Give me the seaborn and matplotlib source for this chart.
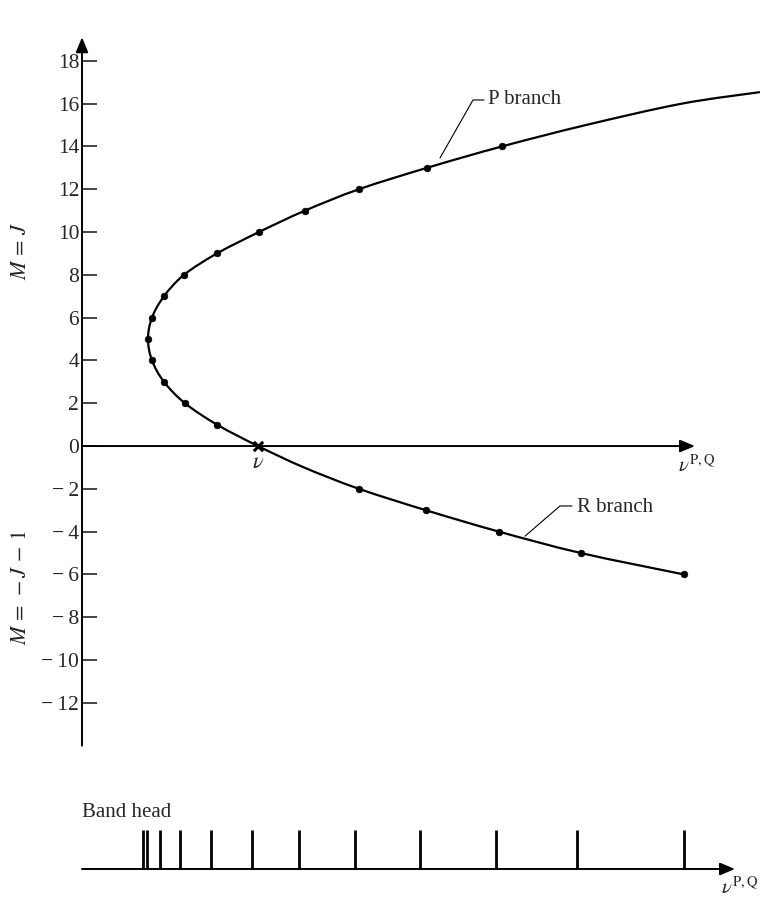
import pandas as pd
import seaborn as sns
import matplotlib.pyplot as plt
from matplotlib.path import Path
from matplotlib.patches import PathPatch

# Fortrat parabola, nu in arbitrary units measured from the M axis
curve_M = [-6, -5, -4, -3, -2, -1, 0, 1, 2, 3, 4, 5, 6, 7, 8, 9, 10, 11, 12, 13, 14, 15, 16, 16.55]
curve_nu = [60.2, 49.9, 41.7, 34.4, 27.7, 22.2, 17.6, 13.5, 10.3, 8.2, 7.0, 6.6, 7.0, 8.2,
            10.2, 13.5, 17.7, 22.3, 27.7, 34.5, 42.0, 50.4, 60.0, 68.0]

# marked lines (M = -1 has no line, M = 0 is the band origin)
dot_M = [-6, -5, -4, -3, -2, 1, 2, 3, 4, 5, 6, 7, 8, 9, 10, 11, 12, 13, 14]
dot_nu = [60.2, 49.9, 41.7, 34.4, 27.7, 13.5, 10.3, 8.2, 7.0, 6.6, 7.0, 8.2,
          10.2, 13.5, 17.7, 22.3, 27.7, 34.5, 42.0]
origin_nu = 17.6

# spectrum seen below
spec_lines = [6.1, 6.5, 7.8, 9.8, 12.9, 17.0, 21.7, 27.3, 33.8, 41.4, 49.5, 60.2]

yticks = list(range(-12, 19, 2))
ytick_labels = [str(t) if t >= 0 else '\u2212\u2009' + str(-t) for t in yticks]

dots = pd.DataFrame({'nu': dot_nu, 'M': dot_M})


def smooth_path(xs, ys):
    # Catmull-Rom through the read points, drawn as cubic Bezier segments
    pts = list(zip(xs, ys))
    ext = [pts[0]] + pts + [pts[-1]]
    verts = [pts[0]]
    codes = [Path.MOVETO]
    for i in range(1, len(ext) - 2):
        p0, p1, p2, p3 = ext[i - 1], ext[i], ext[i + 1], ext[i + 2]
        c1 = (p1[0] + (p2[0] - p0[0]) / 6, p1[1] + (p2[1] - p0[1]) / 6)
        c2 = (p2[0] - (p3[0] - p1[0]) / 6, p2[1] - (p3[1] - p1[1]) / 6)
        verts += [c1, c2, p2]
        codes += [Path.CURVE4] * 3
    return Path(verts, codes)


sns.set_style('white')
plt.rcParams['font.family'] = ['Liberation Serif', 'DejaVu Serif']
plt.rcParams['mathtext.fontset'] = 'stix'

fig = plt.figure(figsize=(7.6, 8.98), dpi=100)
ax = fig.add_axes([82 / 760, 138 / 898, 678 / 760, 730 / 898])

ax.add_patch(PathPatch(smooth_path(curve_nu, curve_M), facecolor='none', edgecolor='black', lw=1.6))
sns.scatterplot(data=dots, x='nu', y='M', color='black', s=24, edgecolor='black', ax=ax, zorder=3)
ax.scatter([origin_nu], [0], marker='x', s=45, color='black', linewidths=2.2, zorder=4)

ax.set_xlim(0, 67.8)
ax.set_ylim(-14.67, 19.44)
for s in ax.spines.values():
    s.set_visible(False)
ax.set_xticks([])
ax.set_yticks(yticks)
ax.set_yticklabels(ytick_labels, fontsize=15.5)
ax.tick_params(axis='y', direction='in', length=11, width=1.2, pad=2, left=True)
ax.set_xlabel('')
ax.set_ylabel('')

arrow = dict(arrowstyle='-|>,head_length=0.6,head_width=0.25', mutation_scale=15,
             color='black', lw=1.4, shrinkA=0, shrinkB=0)
ax.annotate('', xy=(0, 19.1), xytext=(0, -14), arrowprops=arrow)
ax.annotate('', xy=(61.3, 0), xytext=(0, 0), arrowprops=arrow)

ax.text(origin_nu, -0.8, r'$\nu$', fontsize=16, ha='center', va='center')
ax.text(61.5, -0.95, r'$\nu^{\mathrm{P,Q}}$', fontsize=15, ha='center', va='center')

# branch labels with leader lines
ax.plot([35.8, 39.1, 40.2], [13.46, 16.17, 16.17], color='black', lw=0.8)
ax.text(40.6, 16.2, 'P branch', fontsize=15, ha='left', va='center')
ax.plot([44.3, 47.8, 49.0], [-4.21, -2.80, -2.80], color='black', lw=0.8)
ax.text(49.5, -2.85, 'R branch', fontsize=15, ha='left', va='center')

fig.text(22 / 760, 1 - 251 / 898, r'$M\,=\,J$', rotation=90, fontsize=16, ha='center', va='center')
fig.text(22 / 760, 1 - 587 / 898, r'$M\,=\,-J\,-\,1$', rotation=90, fontsize=16, ha='center', va='center')

# spectrum strip
ax2 = fig.add_axes([82 / 760, 29 / 898, 678 / 760, 39 / 898])
sns.rugplot(x=spec_lines, height=1, color='black', linewidth=2, ax=ax2, clip_on=False)
ax2.set_xlim(0, 67.8)
ax2.set_ylim(0, 1)
ax2.axis('off')
ax2.annotate('', xy=(65.3, 0), xytext=(0, 0), arrowprops=arrow, annotation_clip=False)
ax2.text(0, 1.44, 'Band head', fontsize=15, ha='left', va='center')
ax2.text(65.8, -0.5, r'$\nu^{\mathrm{P,Q}}$', fontsize=15, ha='center', va='center')

fig.savefig('out.png', dpi=100, facecolor='white')
